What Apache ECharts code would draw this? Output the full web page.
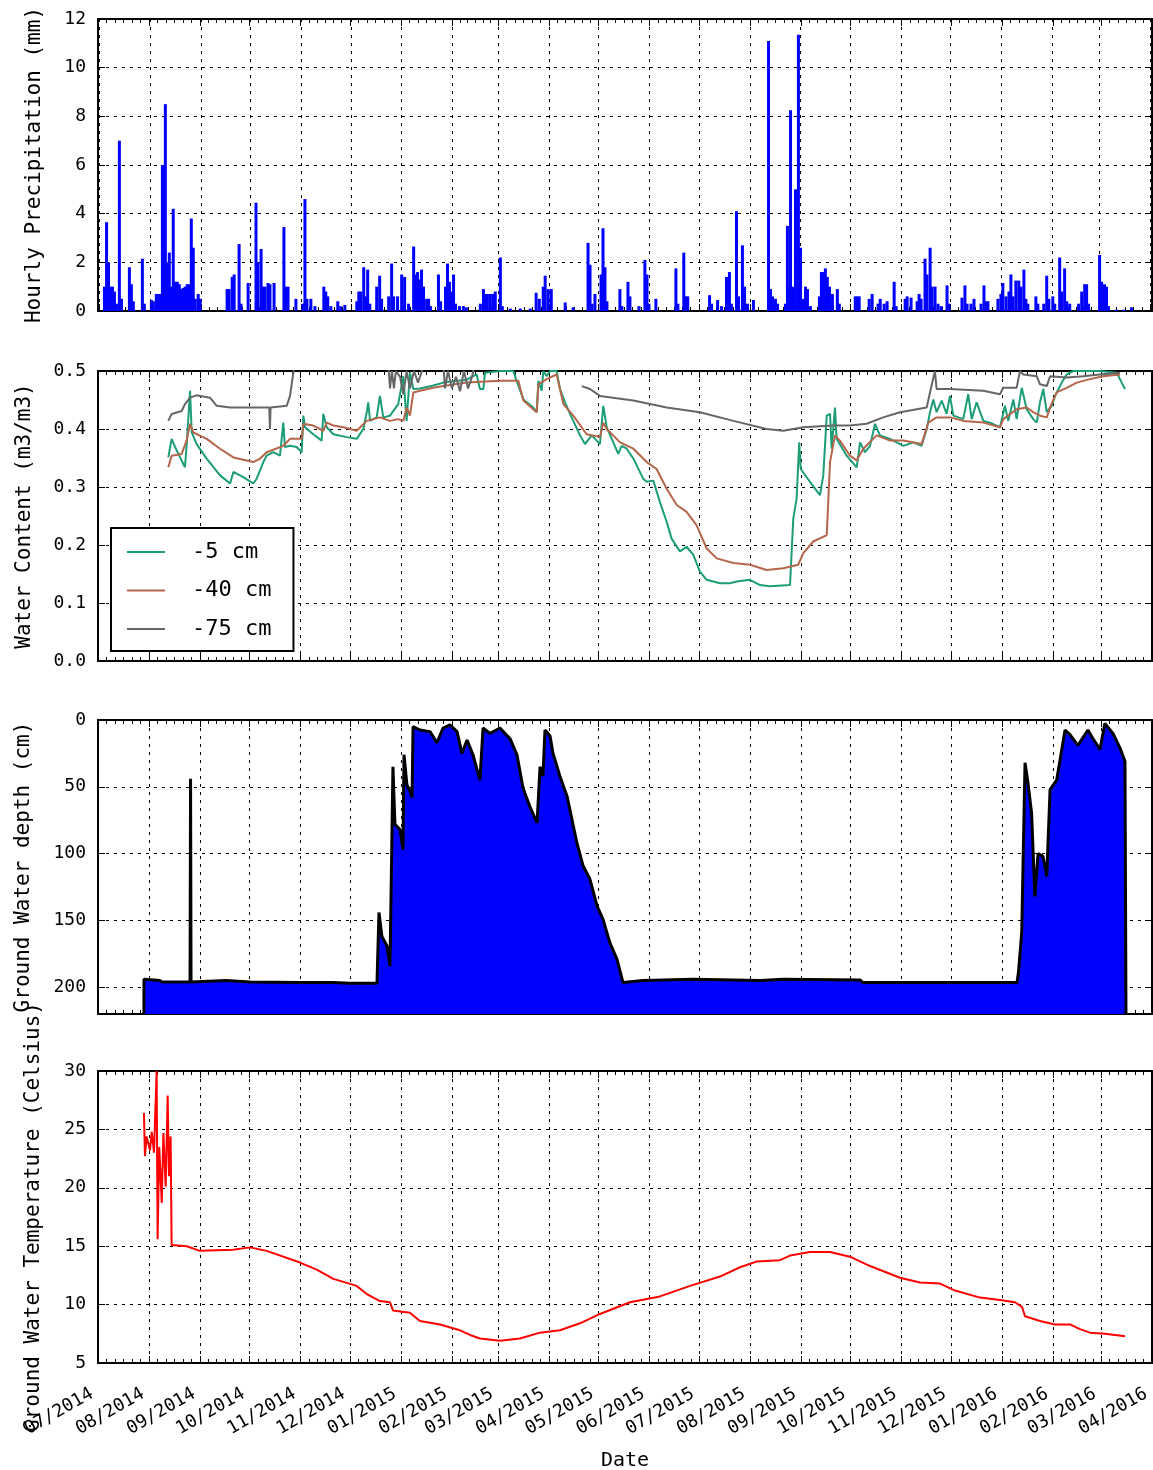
<!DOCTYPE html>
<html>
<head>
<meta charset="utf-8">
<script src="https://cdn.jsdelivr.net/npm/echarts@6/dist/echarts.min.js"></script>
<style>
html,body{margin:0;padding:0;background:#fff;}
#chart{width:1153px;height:1470px;}
</style>
</head>
<body>
<div id="chart"></div>
<script>
// ---------- DATA (x values are days since 2014-07-01) ----------
const precipDay = [3.0,4.3,5.5,6.7,7.9,9.1,10.3,12.1,13.4,18.2,19.4,20.6,26.1,27.3,31.6,32.8,34.6,35.8,37.0,38.3,39.2,40.1,41.3,42.5,43.7,44.9,46.1,47.4,48.6,49.8,51.0,52.2,53.4,54.6,55.9,57.1,58.3,60.1,61.3,
77.7,78.9,80.8,82.0,85.0,86.2,90.5,95.3,96.5,98.4,99.6,100.8,102.6,103.8,106.3,112.3,113.5,114.8,119.6,123.9,125.1,126.3,128.7,131.2,136.6,137.8,139.0,140.9,145.1,146.9,149.4,156.7,157.9,159.1,160.9,162.1,163.3,164.6,168.8,170.6,171.8,176.1,177.9,179.1,181.5,
184.0,185.8,188.2,191.3,192.5,193.7,194.9,196.1,197.3,199.2,200.4,201.6,206.4,207.7,210.7,211.9,213.1,214.3,215.6,216.8,219.2,221.6,223.4,231.9,233.8,235.0,236.2,238.0,239.8,241.0,244.1,245.3,250.2,256.2,262.3,265.9,267.8,270.2,271.4,273.2,275.1,283.6,288.4,
297.5,298.7,299.9,301.7,305.4,306.6,307.8,309.0,316.9,318.1,321.8,323.0,328.5,332.1,333.4,334.6,338.8,351.0,352.2,355.8,357.0,358.2,371.5,372.7,376.4,378.8,381.8,383.6,384.8,387.9,389.1,391.5,392.8,394.6,398.2,
407.4,408.6,409.8,411.6,412.9,417.7,418.9,420.1,420.8,422.0,422.6,423.8,425.6,426.9,428.1,429.9,431.1,432.9,438.4,439.6,440.8,442.0,443.2,444.5,446.3,449.3,450.5,460.2,461.4,462.6,468.7,470.5,474.1,475.4,477.8,479.6,483.9,485.1,
490.6,491.8,494.2,497.9,499.1,500.3,502.7,503.9,505.8,507.0,508.8,510.6,512.5,516.1,517.3,525.2,527.0,528.3,530.7,532.5,536.8,538.6,539.8,541.0,547.1,548.9,550.1,552.0,553.8,555.0,556.2,558.0,559.8,561.1,562.9,564.1,565.3,
570.2,571.4,575.0,576.8,578.1,580.5,581.7,584.7,585.9,587.7,589.0,590.8,596.2,598.1,599.9,601.1,602.3,609.0,610.2,612.0,613.2,614.4,619.3,623.5,628.4];
const precipMm = [1.0,3.65,2.0,1.0,1.0,0.8,0.3,7.0,0.5,1.8,1.1,0.4,2.15,0.3,0.45,0.4,0.7,0.7,0.7,6.0,6.0,8.5,2.0,2.4,1.0,4.2,1.2,1.2,1.1,0.9,0.95,1.0,1.1,1.1,3.8,2.6,0.5,0.7,0.5,
0.9,0.9,1.4,1.5,2.75,0.3,1.15,4.45,2.0,2.55,1.0,1.0,1.15,1.1,1.15,3.45,1.0,1.0,0.5,0.3,4.6,0.5,0.5,0.2,1.0,0.8,0.6,0.2,0.4,0.2,0.25,0.4,0.8,0.8,1.8,0.6,1.7,0.3,1.0,1.45,0.5,0.6,1.95,0.6,0.6,
1.5,1.4,0.3,2.65,1.5,1.6,1.3,1.7,1.0,0.5,0.5,0.2,1.5,0.4,1.0,1.95,1.2,0.8,1.5,0.3,0.2,0.2,0.15,0.3,0.9,0.7,0.7,0.7,0.7,0.8,2.2,0.2,0.1,0.1,0.1,0.75,0.5,1.0,1.45,0.9,0.9,0.35,0.15,
2.8,1.9,0.3,0.7,1.5,3.4,1.8,0.4,0.9,0.2,1.2,0.6,0.2,2.1,1.5,0.3,0.5,1.75,0.3,2.4,0.6,0.6,0.65,0.3,0.45,0.2,1.4,1.6,0.3,4.1,0.6,2.7,1.0,0.3,0.45,
11.1,0.9,0.6,0.5,0.3,0.3,3.5,1.0,8.25,0.5,1.0,5.0,11.35,2.6,0.5,1.0,0.9,0.2,0.6,1.6,1.6,1.75,1.4,1.0,0.7,0.9,0.3,0.6,0.6,0.6,0.5,0.7,0.3,0.5,0.3,0.4,1.2,0.2,
0.5,0.6,0.55,0.4,0.7,0.5,2.15,1.5,2.6,1.0,1.0,0.3,0.2,1.05,0.3,0.55,1.05,0.3,0.3,0.5,0.3,1.05,0.4,0.4,0.5,0.7,1.15,0.6,0.8,1.5,0.6,1.25,1.25,1.0,1.7,0.5,0.3,
0.6,0.3,0.3,1.45,0.5,0.6,0.3,2.2,0.8,1.75,0.4,0.3,0.3,0.8,1.1,1.1,0.3,2.3,1.2,1.1,1.0,0.2,0.05,0.05,0.15];

const wc5Day = [42.7,44.7,46.8,49.8,52.8,53.8,55.9,56.9,59.9,66.0,74.1,80.2,82.2,88.2,94.3,96.3,100.4,102.4,106.4,110.5,112.5,113.5,116.6,120.6,123.7,124.7,125.7,130.7,135.8,136.8,138.9,142.9,151.0,157.1,161.1,163.2,164.1,165.2,169.2,171.2,173.2,177.3,182.3,
183.4,185.4,187.4,189.4,191.5,195.5,203.6,209.7,223.9,229.9,231.9,234.0,235.0,244.1,252.2,254.2,258.3,264.3,266.4,267.4,269.4,270.4,272.4,274.5,278.5,280.5,283.6,286.6,292.7,295.7,299.8,302.8,304.8,306.8,308.9,312.9,315.9,318.0,321.0,325.1,331.1,333.2,337.2,341.2,345.3,348.3,353.4,357.4,361.5,365.5,369.6,377.7,383.7,387.8,395.9,402.0,408.0,420.2,
421.2,422.2,424.2,425.8,426.7,432.3,438.4,440.4,442.5,444.5,445.5,447.5,448.5,454.6,460.7,462.7,465.7,468.8,471.8,474.8,480.9,489.0,495.1,500.1,503.2,505.2,507.2,509.2,512.3,515.3,517.3,519.4,525.4,528.4,530.5,533.5,537.6,541.6,547.7,550.7,552.7,555.8,557.8,560.9,563.9,567.9,570.0,572.0,574.0,576.1,579.1,581.1,585.2,588.2,592.2,608.4,618.6,621.6,623.6];
const wc5Val = [0.351,0.383,0.369,0.351,0.334,0.371,0.466,0.394,0.374,0.349,0.320,0.306,0.326,0.317,0.306,0.314,0.343,0.354,0.360,0.354,0.411,0.369,0.371,0.369,0.360,0.423,0.403,0.391,0.380,0.426,0.403,0.391,0.386,0.383,0.400,0.429,0.446,0.414,0.420,0.457,0.420,0.423,0.443,
0.443,0.491,0.414,0.497,0.469,0.470,0.475,0.480,0.485,0.494,0.469,0.469,0.497,0.500,0.500,0.483,0.451,0.437,0.429,0.483,0.466,0.500,0.491,0.500,0.500,0.469,0.446,0.426,0.389,0.374,0.389,0.380,0.374,0.440,0.403,0.377,0.357,0.371,0.366,0.349,0.314,0.309,0.311,0.274,0.240,0.211,0.189,0.197,0.183,0.154,0.140,0.134,0.134,0.137,0.140,0.131,0.129,0.131,
0.131,0.246,0.280,0.377,0.331,0.309,0.286,0.320,0.423,0.426,0.366,0.437,0.383,0.354,0.334,0.377,0.360,0.371,0.409,0.389,0.383,0.371,0.377,0.371,0.400,0.429,0.451,0.429,0.449,0.426,0.457,0.423,0.417,0.460,0.417,0.446,0.414,0.411,0.403,0.440,0.414,0.451,0.417,0.471,0.434,0.417,0.411,0.446,0.469,0.429,0.440,0.457,0.480,0.494,0.500,0.500,0.497,0.480,0.469];

const wc40Day = [42.7,44.7,50.8,53.8,55.9,57.9,66.0,74.1,82.2,94.3,98.4,102.4,112.5,116.6,123.7,124.7,130.7,136.8,138.9,142.9,149.0,157.1,163.2,171.2,177.3,182.3,
183.4,185.4,187.4,189.4,191.5,195.5,203.6,209.7,223.9,244.1,255.2,258.3,264.3,266.4,267.4,272.4,278.5,282.6,288.6,296.7,304.8,306.8,308.9,317.0,325.1,333.2,339.2,345.3,351.4,357.4,363.5,369.6,375.7,385.8,395.9,406.0,416.1,
425.2,428.3,434.3,442.5,444.5,447.5,450.5,456.6,460.7,464.7,472.8,480.9,489.0,500.1,504.2,509.2,517.3,525.4,537.6,547.7,549.7,557.8,563.9,567.9,572.0,576.1,578.1,582.1,588.2,594.3,602.3,610.4,620.6];
const wc40Val = [0.334,0.354,0.357,0.380,0.409,0.394,0.383,0.366,0.351,0.343,0.349,0.360,0.371,0.383,0.383,0.409,0.406,0.397,0.411,0.406,0.403,0.397,0.414,0.420,0.414,0.417,
0.420,0.414,0.437,0.423,0.463,0.466,0.471,0.474,0.480,0.483,0.483,0.449,0.434,0.429,0.477,0.486,0.494,0.443,0.423,0.391,0.386,0.411,0.400,0.377,0.366,0.343,0.331,0.297,0.269,0.257,0.234,0.194,0.177,0.169,0.166,0.157,0.160,
0.166,0.186,0.206,0.217,0.343,0.389,0.380,0.354,0.346,0.366,0.389,0.380,0.380,0.374,0.411,0.420,0.420,0.414,0.411,0.403,0.417,0.434,0.437,0.429,0.423,0.420,0.437,0.463,0.471,0.480,0.486,0.491,0.494];

const wc75Day = [42.7,44.7,50.8,52.8,55.9,59.9,68.0,72.1,80.2,102.4,104.0,104.4,104.8,114.6,116.6,118.6,119.6,176.1,177.3,178.5,179.7,180.9,183.4,185.4,187.4,189.4,191.9,194.3,196.7,199.2,209.5,210.7,212.5,214.9,217.4,219.8,222.2,224.7,227.1,229.5,
260.0,293.7,298.7,304.8,325.1,345.3,365.5,385.8,406.0,416.1,428.3,446.5,456.6,466.7,476.8,487.0,503.2,505.2,508.2,509.2,517.3,537.6,547.7,549.7,557.8,559.8,561.9,570.0,572.0,576.1,578.1,588.2,598.3,608.4,620.6];
const wc75Val = [0.414,0.426,0.431,0.443,0.454,0.458,0.454,0.440,0.437,0.437,0.437,0.400,0.437,0.440,0.457,0.497,0.520,0.520,0.470,0.500,0.470,0.500,0.490,0.460,0.500,0.470,0.500,0.480,0.500,0.520,0.520,0.470,0.500,0.470,0.490,0.465,0.500,0.470,0.490,0.520,
null,0.474,0.469,0.457,0.449,0.437,0.429,0.414,0.400,0.397,0.403,0.406,0.406,0.409,0.420,0.429,0.437,0.463,0.500,0.469,0.469,0.466,0.460,0.471,0.471,0.500,0.494,0.491,0.477,0.474,0.491,0.489,0.491,0.494,0.497];

const gwDay = [27.9,27.9,37.6,38.9,55.9,56.2,56.5,77.7,92.3,122.7,142.7,153.0,169.4,170.6,172.4,175.5,177.3,179.1,180.3,183.4,185.2,185.8,187.6,189.4,190.7,191.3,195.5,201.6,205.8,209.5,213.7,218.0,221.0,224.1,227.7,231.9,233.8,238.0,244.1,250.2,254.4,258.1,262.3,266.6,268.4,270.2,271.4,274.5,276.3,280.5,284.8,290.8,294.5,298.7,303.0,306.6,310.9,315.1,318.8,330.9,361.3,402.0,415.9,462.7,464.5,
558.0,558.9,560.9,562.9,564.7,566.9,568.9,570.8,573.8,576.1,578.1,582.1,587.2,590.2,595.0,601.1,604.2,608.4,611.4,616.3,620.6,623.6,624.2];
const gwDepth = [220,194,195,196,196,44,196,195,196,196.5,196.5,197,197,144,162,169,184,35,78,82,97,26,48.5,53,58,5,7.5,8.7,17,6,3.7,8.7,25,15,26,45,6,10,6,14,26,51,65,77,35,42,7.5,12,25,42,57,92,109,119,139,149,167,179,196.5,195,194,195,194,194.5,196.5,
196.5,189,159,32,47,70,132,100,102,117,52,45,7.5,11,19,7.5,14,22,2.5,10,21,31,220];

const tempDay = [27.9,28.5,29.5,31.6,32.6,34.0,35.6,36.2,37.2,38.7,39.7,41.1,42.3,43.1,44.1,44.7,53.9,61.9,82.0,92.3,102.4,122.7,132.8,142.9,157.1,163.2,171.2,177.3,179.1,189.4,195.5,207.7,219.8,225.9,231.9,244.1,256.2,268.4,280.5,292.7,304.8,323.0,341.2,359.5,377.7,389.8,400.2,414.1,420.2,432.3,444.5,456.6,468.8,487.0,499.1,511.3,520.4,535.6,547.7,556.8,561.1,562.9,572.0,581.1,590.2,596.3,602.3,611.4,623.6];
const tempC = [26.4,22.7,24.4,23.2,24.8,23.0,30.0,15.6,23.5,18.7,24.7,20.1,27.9,21.0,24.4,15.1,15.0,14.6,14.7,14.9,14.6,13.6,13.0,12.2,11.6,10.9,10.3,10.2,9.5,9.3,8.6,8.3,7.8,7.4,7.1,6.9,7.1,7.6,7.8,8.4,9.2,10.2,10.7,11.6,12.4,13.2,13.7,13.8,14.2,14.5,14.5,14.1,13.3,12.3,11.9,11.8,11.2,10.6,10.4,10.2,9.8,9.0,8.6,8.3,8.3,7.9,7.6,7.5,7.3];

const seriesNames = ['-5 cm', '-40 cm', '-75 cm'];
const yTitles = ['Hourly Precipitation (mm)', 'Water Content (m3/m3)', 'Ground Water depth (cm)', 'Ground Water Temperature (Celsius)'];

// ---------- helpers ----------
const DAY_MS = 86400000;
const T0 = new Date(2014, 6, 1).getTime();
const T1 = new Date(2016, 3, 1).getTime();
const toT = d => T0 + d * DAY_MS;
const pairs = (days, vals) => days.map((d, i) => [toT(d), vals[i]]);
const monthFmt = v => { const dt = new Date(v); return String(dt.getMonth() + 1).padStart(2, '0') + '/' + dt.getFullYear(); };

const FONT = 'DejaVu Sans Mono';
const grids = [
  { left: 98, width: 1054, top: 19, height: 292 },
  { left: 98, width: 1054, top: 371, height: 290 },
  { left: 98, width: 1054, top: 720, height: 294 },
  { left: 98, width: 1054, top: 1071, height: 292 }
];
const yCfg = [
  { min: 0, max: 12, interval: 2, gap: 53 },
  { min: 0, max: 0.5, interval: 0.1, gap: 63, fmt: v => v.toFixed(1) },
  { min: 0, max: 220, interval: 50, gap: 64, inverse: true },
  { min: 5, max: 30, interval: 5, gap: 54 }
];
const dotted = { color: '#000', width: 1, type: [3, 5] };

const xAxes = [], yAxes = [];
grids.forEach((g, i) => {
  const base = {
    type: 'time', gridIndex: i, min: T0, max: T1,
    splitNumber: 21, minInterval: 28 * DAY_MS, maxInterval: 31 * DAY_MS,
    axisLine: { show: true, onZero: false, lineStyle: { color: '#000', width: 2 } },
    axisTick: { show: true, inside: true, length: 7, lineStyle: { color: '#000', width: 1 } },
    minorTick: { show: true, splitNumber: 6, length: 4, lineStyle: { color: '#000', width: 1 } },
  };
  xAxes.push(Object.assign({}, base, {
    position: 'bottom',
    splitLine: { show: true, lineStyle: dotted },
    axisLabel: i === 3 ? {
      show: true, rotate: 30, margin: 26, padding: [0, 7, 0, 0], hideOverlap: false,
      fontFamily: FONT, fontSize: 18, color: '#000', formatter: monthFmt
    } : { show: false },
    name: i === 3 ? 'Date' : '', nameLocation: 'middle', nameGap: 88,
    nameTextStyle: { fontFamily: FONT, fontSize: 20, color: '#000' }
  }));
  xAxes.push(Object.assign({}, base, {
    position: 'top', splitLine: { show: false }, axisLabel: { show: false }
  }));
  const c = yCfg[i];
  const ybase = {
    type: 'value', gridIndex: i, min: c.min, max: c.max, interval: c.interval, inverse: !!c.inverse,
    axisLine: { show: true, onZero: false, lineStyle: { color: '#000', width: 2 } },
    axisTick: { show: true, inside: true, length: 7, lineStyle: { color: '#000', width: 1 } },
  };
  yAxes.push(Object.assign({}, ybase, {
    position: 'left',
    splitLine: { show: true, lineStyle: dotted },
    axisLabel: { show: true, margin: 12, fontFamily: FONT, fontSize: 18, color: '#000',
      formatter: c.fmt || (v => String(v)), showMaxLabel: !c.inverse },
    name: yTitles[i], nameLocation: 'middle', nameGap: c.gap, nameRotate: 90,
    nameTextStyle: { fontFamily: FONT, fontSize: 21, color: '#000' }
  }));
  yAxes.push(Object.assign({}, ybase, {
    position: 'right', splitLine: { show: false }, axisLabel: { show: false }
  }));
});

const wcColors = ['#1b9e77', '#b5654a', '#666666'];
const option = {
  animation: false,
  backgroundColor: '#fff',
  grid: grids.map(g => Object.assign({ containLabel: false, outerBoundsMode: 'none' }, g)),
  xAxis: xAxes,
  yAxis: yAxes,
  legend: {
    orient: 'vertical', left: 111, top: 528,
    data: seriesNames, icon: 'rect', itemWidth: 38, itemHeight: 2, itemGap: 16.5,
    padding: [13, 22, 11, 16], borderColor: '#000', borderWidth: 2, borderRadius: 0,
    backgroundColor: '#fff', selectedMode: false,
    textStyle: { fontFamily: FONT, fontSize: 22, color: '#000', padding: [0, 0, 0, 22] }
  },
  series: [
    { type: 'bar', name: 'precip', xAxisIndex: 0, yAxisIndex: 0, barWidth: 3, barGap: '-100%',
      itemStyle: { color: '#0000ff' }, data: pairs(precipDay, precipMm) },
    { type: 'line', name: seriesNames[0], xAxisIndex: 2, yAxisIndex: 2, symbol: 'none', color: wcColors[0],
      lineStyle: { color: wcColors[0], width: 2 }, data: pairs(wc5Day, wc5Val) },
    { type: 'line', name: seriesNames[1], xAxisIndex: 2, yAxisIndex: 2, symbol: 'none', color: wcColors[1],
      lineStyle: { color: wcColors[1], width: 2 }, data: pairs(wc40Day, wc40Val) },
    { type: 'line', name: seriesNames[2], xAxisIndex: 2, yAxisIndex: 2, symbol: 'none', color: wcColors[2],
      lineStyle: { color: wcColors[2], width: 2 }, connectNulls: false, data: pairs(wc75Day, wc75Val) },
    { type: 'line', name: 'gw', xAxisIndex: 4, yAxisIndex: 4, symbol: 'none', color: '#000',
      lineStyle: { color: '#000', width: 3 }, areaStyle: { color: '#0000ff', opacity: 1, origin: 'end' },
      data: pairs(gwDay, gwDepth) },
    { type: 'line', name: 'temp', xAxisIndex: 6, yAxisIndex: 6, symbol: 'none', color: '#ff0000',
      lineStyle: { color: '#ff0000', width: 2 }, data: pairs(tempDay, tempC) }
  ]
};
const chart = echarts.init(document.getElementById('chart'), null, { renderer: 'canvas' });
chart.setOption(option);
</script>
</body>
</html>
